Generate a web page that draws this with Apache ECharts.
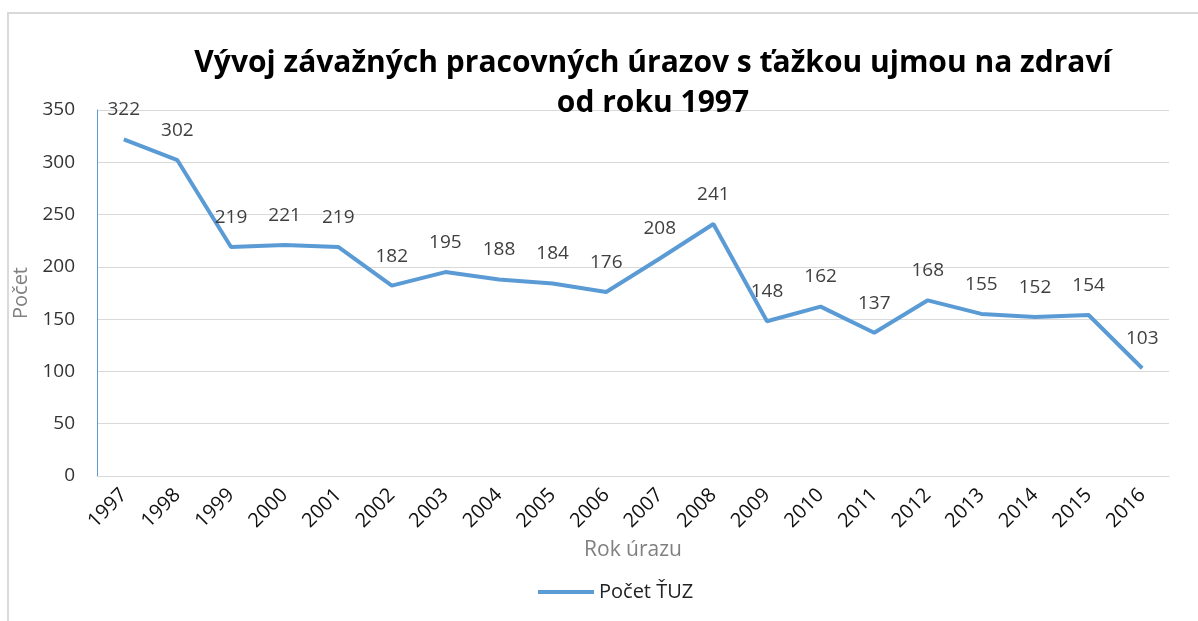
<!DOCTYPE html>
<html lang="sk">
  <head>
    <meta charset="UTF-8" />
    <title>Vývoj ŤUZ</title>
    <script src="https://cdn.jsdelivr.net/npm/echarts@6/dist/echarts.min.js"></script>
  </head>
  <style>
    html,
    body {
      margin: 0;
      padding: 0;
      width: 100%;
      height: 100%;
      background: #fff;
      overflow: hidden;
    }
    .frame {
      position: absolute;
      left: 7px;
      top: 12px;
      width: 1300px;
      height: 700px;
      border: 2px solid #d9d9d9;
    }
    #echart {
      position: absolute;
      left: 0;
      top: 0;
      width: 1198px;
      height: 621px;
    }
  </style>
  <body>
    <div class="frame"></div>
    <div id="echart"></div>
  </body>
  <script>
    const years = ["1997", "1998", "1999", "2000", "2001", "2002", "2003", "2004", "2005", "2006",
      "2007", "2008", "2009", "2010", "2011", "2012", "2013", "2014", "2015", "2016"];
    const counts = [322, 302, 219, 221, 219, 182, 195, 188, 184, 176,
      208, 241, 148, 162, 137, 168, 155, 152, 154, 103];
    const seriesName = "Počet ŤUZ";

    const font = "'Open Sans', 'Noto Sans', sans-serif";
    const chart = echarts.init(document.getElementById("echart"));
    const option = {
      animation: false,
      textStyle: { fontFamily: font },
      title: {
        text: "Vývoj závažných pracovných úrazov s ťažkou ujmou na zdraví\nod roku 1997",
        left: 648,
        top: 38,
        textAlign: "center",
        textStyle: {
          fontFamily: font,
          fontSize: 30,
          fontWeight: "bold",
          color: "#000",
          lineHeight: 40,
        },
      },
      grid: {
        left: 97,
        right: 29,
        top: 110,
        bottom: 145,
      },
      legend: {
        data: [seriesName],
        bottom: 14,
        left: 533,
        itemWidth: 56,
        itemHeight: 4,
        itemGap: 6,
        icon: "rect",
        textStyle: { fontSize: 20, color: "#222", fontFamily: font },
      },
      xAxis: {
        type: "category",
        data: years,
        name: "Rok úrazu",
        nameLocation: "middle",
        nameGap: 64,
        nameTextStyle: { fontSize: 21, color: "#808080", fontFamily: font },
        axisLine: { lineStyle: { color: "#d9d9d9", width: 1 } },
        axisTick: { show: false },
        axisLabel: {
          rotate: 45,
          fontSize: 20,
          color: "#111",
          margin: 16,
          interval: 0,
        },
      },
      yAxis: {
        type: "value",
        min: 0,
        max: 350,
        interval: 50,
        name: "Počet",
        nameLocation: "middle",
        nameGap: 58,
        nameTextStyle: { fontSize: 20, color: "#808080", fontFamily: font },
        axisLine: { show: true, lineStyle: { color: "#5b9bd5", width: 1 } },
        axisTick: { show: false },
        axisLabel: { fontSize: 19, color: "#333", margin: 22 },
        splitLine: { lineStyle: { color: "#d9d9d9" } },
      },
      series: [
        {
          name: seriesName,
          type: "line",
          data: counts,
          symbol: "circle",
          symbolSize: 0.1,
          showSymbol: true,
          lineStyle: { color: "#5b9bd5", width: 4 },
          itemStyle: { color: "#5b9bd5" },
          label: {
            show: true,
            position: "top",
            distance: 20,
            fontSize: 19,
            color: "#404040",
          },
        },
      ],
    };
    chart.setOption(option);
  </script>
</html>
